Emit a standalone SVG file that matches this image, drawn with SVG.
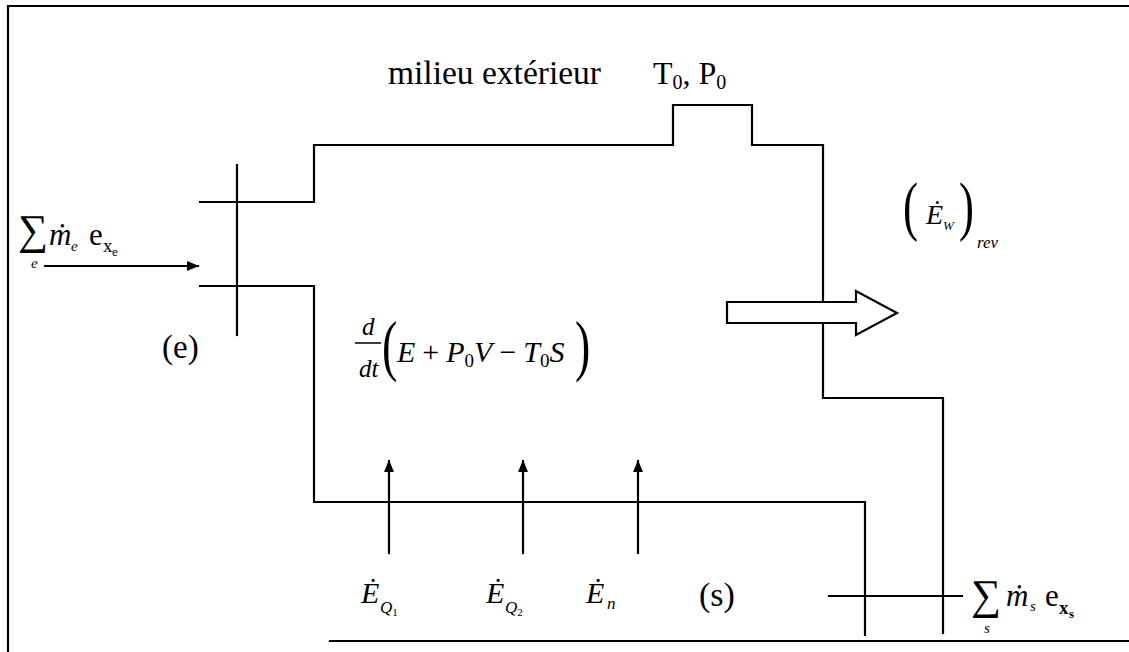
<svg xmlns="http://www.w3.org/2000/svg" width="1129" height="652" viewBox="0 0 1129 652">
<style>
.ln{fill:none;stroke:#000;stroke-width:2.2;stroke-linecap:square}
.t{font-family:"Liberation Serif","Times New Roman",serif;fill:#000}
.i{font-family:"Liberation Serif","Times New Roman",serif;font-style:italic;fill:#000}
</style>
<defs>
<marker id="ah" viewBox="0 0 12 10" refX="11" refY="5" markerWidth="12" markerHeight="10" markerUnits="userSpaceOnUse" orient="auto">
<path d="M0,0 L12,5 L0,10 Z" fill="#000"/>
</marker>
</defs>
<rect width="1129" height="652" fill="#fff"/>
<g id="frame">
<path class="ln" d="M8,652 L8,6 L1129,6"/>
<path class="ln" d="M330,641 L1129,641"/>
</g>
<g id="system">
<path class="ln" d="M200,202 L314,202 L314,145 L673,145 L673,105 L752,105 L752,145 L823,145 L823,398 L943,398 L943,633"/>
<path class="ln" d="M200,286 L314,286 L314,502 L865,502 L865,635"/>
<path class="ln" d="M237,165 L237,335"/>
<path class="ln" d="M829,596 L962,596"/>
</g>
<g id="labels">
<text class="t" x="388" y="84" font-size="33.5">milieu extérieur</text>
<text class="t" x="653" y="84" font-size="32">T<tspan font-size="20" dy="5">0</tspan><tspan dy="-5">, P</tspan><tspan font-size="20" dy="5">0</tspan></text>
<text class="t" x="162" y="358" font-size="33">(e)</text>
<text class="t" x="699" y="606" font-size="34">(s)</text>
</g>
<g id="inlet-label">
<text class="t" x="18" y="244" font-size="42">∑</text>
<text class="i" x="31" y="268" font-size="15">e</text>
<text class="i" x="49" y="245" font-size="31">ṁ</text>
<text class="i" x="71" y="251" font-size="15">e</text>
<text class="t" x="89" y="245" font-size="31">e</text>
<text class="t" x="103" y="252" font-size="19">x</text>
<text class="t" x="112" y="256" font-size="13">e</text>
</g>
<g id="outlet-label">
<text class="t" x="971" y="609" font-size="42">∑</text>
<text class="i" x="984" y="633" font-size="15">s</text>
<text class="i" x="1006" y="606" font-size="31">ṁ</text>
<text class="i" x="1030" y="611" font-size="15">s</text>
<text class="t" x="1045" y="606" font-size="31">e</text>
<text class="t" x="1059" y="614" font-size="19" font-weight="bold">x</text>
<text class="t" x="1069" y="618" font-size="13" font-weight="bold">s</text>
</g>
<g id="balance">
<text class="i" x="362" y="335" font-size="25">d</text>
<path d="M355,343 L381,343" stroke="#000" stroke-width="1.5"/>
<text class="i" x="359" y="377" font-size="25">dt</text>
<text class="t" transform="translate(382,368) scale(1,1.45)" font-size="46">(</text>
<text class="i" x="397" y="362" font-size="30">E<tspan class="t" font-style="normal" dx="7">+</tspan><tspan dx="7">P</tspan><tspan class="t" font-style="normal" font-size="19" dy="5">0</tspan><tspan dy="-5">V</tspan><tspan class="t" font-style="normal" dx="7">−</tspan><tspan dx="7">T</tspan><tspan class="t" font-style="normal" font-size="19" dy="5">0</tspan><tspan dy="-5">S</tspan></text>
<text class="t" transform="translate(575,368) scale(1,1.45)" font-size="46">)</text>
</g>
<g id="work">
<text class="t" transform="translate(903,228) scale(1,1.45)" font-size="45">(</text>
<text class="i" x="926" y="224" font-size="28">Ė</text>
<text class="i" x="943" y="230" font-size="13">W</text>
<text class="t" transform="translate(959,228) scale(1,1.45)" font-size="45">)</text>
<text class="i" x="977" y="248" font-size="17">rev</text>
</g>
<g id="heat-labels">
<text class="i" x="361" y="603" font-size="30">Ė</text>
<text class="i" x="380" y="613" font-size="17">Q<tspan class="t" font-style="normal" font-size="11" dy="3">1</tspan></text>
<text class="i" x="486" y="603" font-size="30">Ė</text>
<text class="i" x="505" y="613" font-size="17">Q<tspan class="t" font-style="normal" font-size="11" dy="3">2</tspan></text>
<text class="i" x="586" y="603" font-size="30">Ė</text>
<text class="i" x="607" y="609" font-size="17">n</text>
</g>
<g id="connectors">
<path class="ln" d="M45,266 L198,266" marker-end="url(#ah)"/>
<path class="ln" d="M389,553 L389,461" marker-end="url(#ah)"/>
<path class="ln" d="M523,553 L523,461" marker-end="url(#ah)"/>
<path class="ln" d="M638,553 L638,461" marker-end="url(#ah)"/>
<path d="M727,302 L856,302 L856,291 L897,313 L856,335 L856,323 L727,323 Z" fill="#fff" stroke="#000" stroke-width="2.2" stroke-linejoin="miter"/>
</g>
</svg>
